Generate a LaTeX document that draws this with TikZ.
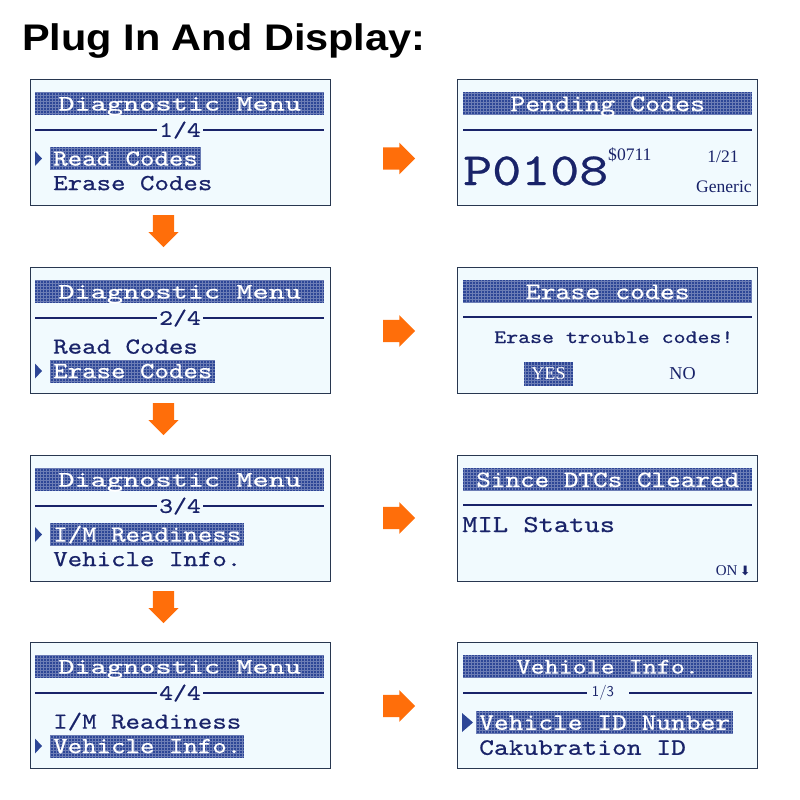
\documentclass[tikz,border=0pt]{standalone}
\usepackage{fontspec}
\newfontfamily\lcdfont{lmmono10-regular.otf}[FakeStretch=1.2, FakeBold=0.6]
\newfontfamily\lcdwide{lmmono10-regular.otf}[FakeStretch=1.4, FakeBold=0.6]
\newfontfamily\plugfont{Liberation Sans}[FakeStretch=1.12]
\newfontfamily\lcdserif{Liberation Serif}
\newfontfamily\dvsans{DejaVu Sans}
\usepackage{tikz}
\usetikzlibrary{positioning,shapes.arrows}
\usepackage{xcolor}
\definecolor{lcdbg}{RGB}{241,250,254}
\definecolor{lcdframe}{RGB}{40,55,80}
\definecolor{lcdink}{RGB}{25,35,105}
\definecolor{lcdbar}{RGB}{45,70,150}
\definecolor{plugorange}{RGB}{255,110,10}

\begin{document}
\begin{tikzpicture}[
  x=0.03cm, y=-0.03cm,
  lcdgrid/.style={path picture={\draw[white, opacity=0.3, line width=0.2pt, step=0.09cm]
      (path picture bounding box.south west) grid (path picture bounding box.north east);}},
  screen/.style={draw=lcdframe, line width=1.2pt, fill=lcdbg, anchor=north west,
    minimum width=9cm, minimum height=3.78cm, inner sep=0pt},
  lcd/.style={font={\lcdfont\fontsize{#1}{#1}\selectfont}, text height=0.62*#1pt, text depth=0pt},
  bar/.style={fill=lcdbar, lcdgrid, anchor=north west, minimum width=8.67cm,
    minimum height=0.69cm, inner sep=0pt, text=white},
  menuhead/.style={bar, font={\lcdwide\fontsize{18.8}{19}\selectfont}, text height=11.6pt, text depth=0pt},
  item/.style={lcd=19.6, text=lcdink, anchor=west, inner xsep=0.09cm, inner ysep=0pt, minimum height=0.69cm},
  sel/.style={item, fill=lcdbar, lcdgrid, text=white},
  sepline/.style={draw=lcdink, line width=2.3pt},
  sepnum/.style={lcd=18.8, fill=lcdbg, text=lcdink, inner xsep=1.5pt, inner ysep=0pt},
  pointer/.style={fill=lcdbar},
  serif/.style={font={\lcdserif\fontsize{#1}{#1}\selectfont}, text=lcdink, inner sep=0pt},
  rarrow/.style={single arrow, fill=plugorange, minimum height=0.96cm, inner xsep=0pt,
    inner ysep=0.33cm, single arrow head extend=0.14cm, anchor=tail},
  darrow/.style={rarrow, shape border rotate=270, inner xsep=0.31cm, inner ysep=0pt}
]
\useasboundingbox (0,0) rectangle (800,800);

\node[anchor=base west, inner sep=0pt, font={\plugfont\bfseries\fontsize{31.6}{32}\selectfont}]
  (title) at (22,50) {Plug In And Display:};

\node[screen] (d1) at (30,79) {};
\node[menuhead] (d1h) at (35,92) {Diagnostic Menu};
\draw[sepline] (35,130) -- (324,130);
\node[sepnum] (d1n) at (180,130) {1/4};
\fill[pointer] (35,151) -- (42,158.5) -- (35,166) -- cycle;
\node[sel] (d1a) at (50,158.5) {Read Codes};
\node[item] (d1b) at (50,183) {Erase Codes};

\node[screen] (d2) at (30,267) {};
\node[menuhead] (d2h) at (35,280) {Diagnostic Menu};
\draw[sepline] (35,318) -- (324,318);
\node[sepnum] (d2n) at (180,318) {2/4};
\node[item] (d2a) at (50,346.5) {Read Codes};
\fill[pointer] (35,363.5) -- (42,371) -- (35,378.5) -- cycle;
\node[sel] (d2b) at (50,371) {Erase Codes};

\node[screen] (d3) at (30,455) {};
\node[menuhead] (d3h) at (35,468) {Diagnostic Menu};
\draw[sepline] (35,506) -- (324,506);
\node[sepnum] (d3n) at (180,506) {3/4};
\fill[pointer] (35,527) -- (42,534.5) -- (35,542) -- cycle;
\node[sel] (d3a) at (50,534.5) {I/M Readiness};
\node[item] (d3b) at (50,559) {Vehicle Info.};

\node[screen] (d4) at (30,642) {};
\node[menuhead] (d4h) at (35,655) {Diagnostic Menu};
\draw[sepline] (35,693) -- (324,693);
\node[sepnum] (d4n) at (180,693) {4/4};
\node[item] (d4a) at (50,721.5) {I/M Readiness};
\fill[pointer] (35,738.5) -- (42,746) -- (35,753.5) -- cycle;
\node[sel] (d4b) at (50,746) {Vehicle Info.};

\node[screen] (pend) at (457,79) {};
\node[bar, lcd=20.3] (pendh) at (463,92) {Pending Codes};
\draw[sepline] (463,130) -- (752,130);
\node[lcd=39.3, text=lcdink, anchor=base west, inner sep=0pt] (code) at (463,185) {P0108};
\node[serif=15, anchor=base west] (pid) at (608,160) {\$0711};
\node[serif=15, anchor=base] (count) at (723,162) {1/21};
\node[serif=15, anchor=base east] (kind) at (752,192) {Generic};

\node[screen] (erase) at (457,267) {};
\node[bar, lcd=20.2] (eraseh) at (463,280) {Erase codes};
\draw[sepline] (463,317) -- (752,317);
\node[lcd=16.2, text=lcdink, anchor=base west, inner sep=0pt] (ask) at (494,343) {Erase trouble codes!};
\node[fill=lcdbar, lcdgrid, text=white, font={\lcdserif\fontsize{15.5}{16}\selectfont},
  minimum width=1.47cm, minimum height=0.72cm, inner sep=0pt] (yes) at (548.5,374) {YES};
\node[serif=15.5] (no) at (682.5,373.5) {NO};

\node[screen] (since) at (457,455) {};
\node[bar, lcd=19.8] (sinceh) at (463,468) {Since DTCs Cleared};
\draw[sepline] (463,505) -- (752,505);
\node[lcd=20.7, text=lcdink, anchor=base west, inner sep=0pt] (mil) at (462,532) {MIL Status};
\node[serif=12.8, anchor=base east] (on) at (751,575) {ON\,{\dvsans\fontsize{11}{11}\selectfont ⬇}};

\node[screen] (info) at (457,642) {};
\node[bar, lcd=19] (infoh) at (463,655) {Vehiole Info.};
\draw[sepline] (463,693) -- (587,693);
\draw[sepline] (629,693) -- (752,693);
\node[text=lcdink, inner sep=0pt, font=\sffamily\fontsize{12.8}{13}\selectfont] (infon) at (603,693) {1/3};
\fill[pointer] (462,713) -- (473,722.5) -- (462,732) -- cycle;
\node[sel, lcd=20] (vin) at (476,722.5) {Vehicle ID Nunber};
\node[item, lcd=20] (cal) at (476,747.5) {Cakubration ID};

\node[rarrow] (ra1) at (383,158.5) {};
\node[rarrow] (ra2) at (383,331) {};
\node[rarrow] (ra3) at (383,518) {};
\node[rarrow] (ra4) at (383,706) {};
\node[darrow] (da1) at (163.5,215) {};
\node[darrow] (da2) at (163.5,403) {};
\node[darrow] (da3) at (163.5,591) {};
\end{tikzpicture}
\end{document}
